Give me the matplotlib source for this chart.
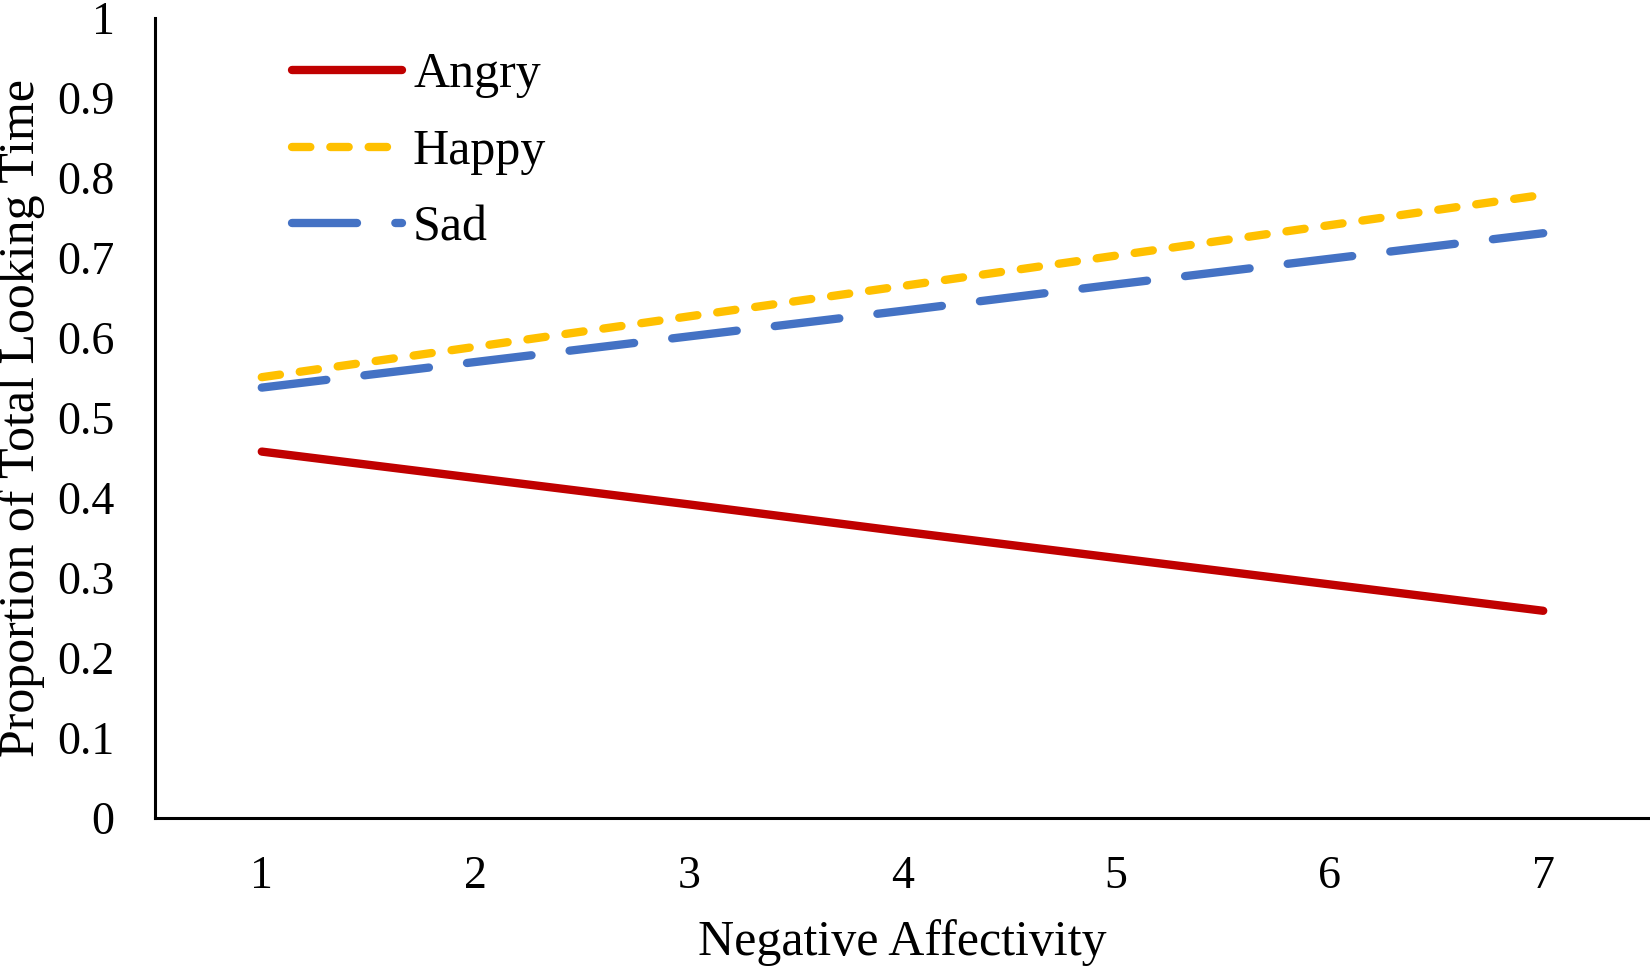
import matplotlib.pyplot as plt

# data
neg_affect = [1, 2, 3, 4, 5, 6, 7]
angry = [0.458, 0.425, 0.392, 0.358, 0.325, 0.292, 0.259]
happy = [0.551, 0.589, 0.627, 0.665, 0.703, 0.741, 0.779]
sad = [0.538, 0.570, 0.602, 0.634, 0.667, 0.699, 0.731]
y_ticks = [0, 0.1, 0.2, 0.3, 0.4, 0.5, 0.6, 0.7, 0.8, 0.9, 1]
y_labels = ['0', '0.1', '0.2', '0.3', '0.4', '0.5', '0.6', '0.7', '0.8', '0.9', '1']

plt.rcParams['font.family'] = ['Liberation Serif', 'DejaVu Serif']

fig = plt.figure(figsize=(16.5, 9.67), dpi=100)
ax = fig.add_axes([155 / 1650, 1 - 818 / 967, 1 - 155 / 1650, (818 - 18) / 967])

lw = 6
ax.plot(neg_affect, angry, color='#C00000', lw=lw, solid_capstyle='round', label='Angry')
ax.plot(neg_affect, happy, color='#FFC000', lw=lw, dashes=(2.2, 2.4),
        dash_capstyle='round', label='Happy')
ax.plot(neg_affect, sad, color='#4472C4', lw=lw, dashes=(7.8, 4.6),
        dash_capstyle='round', label='Sad')

ax.set_xlim(0.5, 7.5)
ax.set_ylim(0, 1)
ax.set_xticks(neg_affect)
ax.set_yticks(y_ticks)
ax.set_yticklabels(y_labels)
ax.tick_params(axis='both', length=0, labelsize=33)
ax.tick_params(axis='y', pad=29)
ax.tick_params(axis='x', pad=27)

for s in ['top', 'right']:
    ax.spines[s].set_visible(False)
for s in ['left', 'bottom']:
    ax.spines[s].set_linewidth(2.2)
    ax.spines[s].set_color('black')

ax.set_xlabel('Negative Affectivity', fontsize=36, labelpad=15)
ax.set_ylabel('Proportion of Total Looking Time', fontsize=36, labelpad=9)

ax.legend(loc='upper left', bbox_to_anchor=(292 / 1650, 1 - 52 / 967),
          bbox_transform=fig.transFigure, frameon=False, fontsize=36,
          handlelength=2.2, handletextpad=0.22, labelspacing=0.6,
          borderpad=0, borderaxespad=0)

fig.savefig('out.png', dpi=100)
